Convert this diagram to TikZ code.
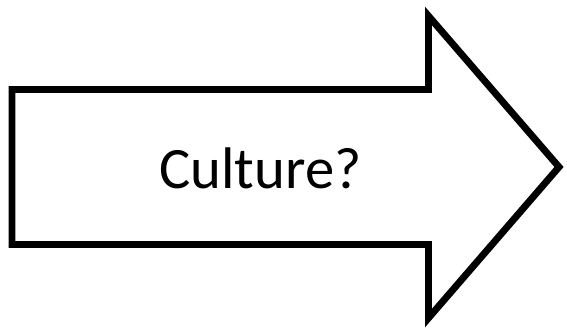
\documentclass[tikz,border=0pt]{standalone}
\usepackage{fontspec}
\setmainfont{Carlito}
\usetikzlibrary{positioning}

\begin{document}
\begin{tikzpicture}[
      x=0.75pt, y=-0.75pt,
      font=\fontsize{44}{52}\selectfont,
      outline/.style={draw=black, line width=5.2pt, miter limit=10, fill=white},
      label/.style={inner sep=0pt, anchor=center}
    ]
    \useasboundingbox (0,0) rectangle (567,331);
    % big arrow
    \draw[outline] (12,89.5) -- (428.5,89.5) -- (428.5,16) -- (559,167)
      -- (428.5,318) -- (428.5,244.5) -- (12,244.5) -- cycle;
    \node[label] (txt) at (260.5,168) {Culture?};
  \end{tikzpicture}
\end{document}
